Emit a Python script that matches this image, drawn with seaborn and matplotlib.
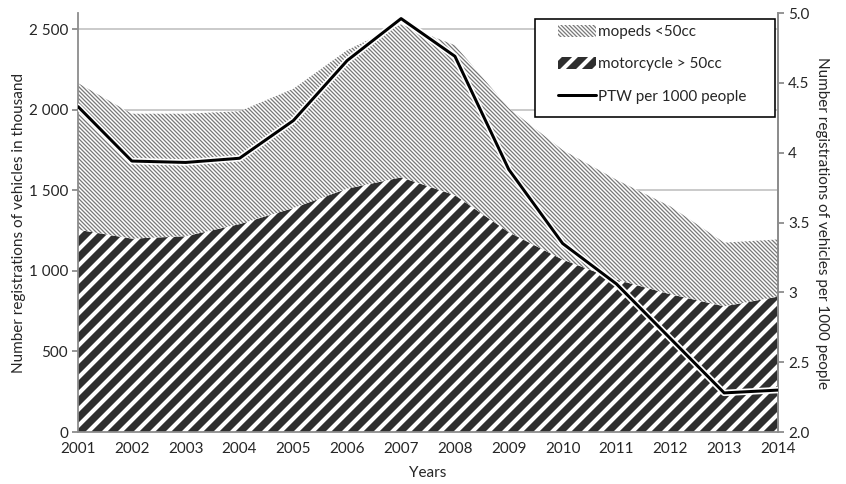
import numpy as np
import pandas as pd
import matplotlib
matplotlib.use("Agg")
import matplotlib.pyplot as plt
import matplotlib.patheffects as pe
from matplotlib.patches import Patch, Rectangle
from matplotlib.lines import Line2D
from matplotlib.ticker import FixedLocator, FixedFormatter, MultipleLocator
import seaborn as sns

# ─── Data ─────────────────────────────────────────────────────────────────────
years       = [2001, 2002, 2003, 2004, 2005, 2006, 2007, 2008, 2009, 2010, 2011, 2012, 2013, 2014]
motorcycle  = [1255, 1200, 1215, 1290, 1390, 1510, 1580, 1470, 1240, 1070, 945, 855, 780, 840]
mopeds      = [910, 775, 760, 700, 740, 860, 950, 930, 770, 680, 620, 545, 395, 355]
ptw_per_1000 = [4.33, 3.94, 3.93, 3.96, 4.23, 4.66, 4.96, 4.69, 3.88, 3.35, 3.06, 2.67, 2.28, 2.30]

left_ticks   = [0, 500, 1000, 1500, 2000, 2500]
left_labels  = ["0", "500", "1 000", "1 500", "2 000", "2 500"]
right_ticks  = [2.0, 2.5, 3.0, 3.5, 4.0, 4.5, 5.0]
right_labels = ["2.0", "2.5", "3", "3.5", "4", "4.5", "5.0"]

df = pd.DataFrame({"year": years, "motorcycle": motorcycle,
                   "mopeds": mopeds, "ptw": ptw_per_1000})
df["total"] = df["motorcycle"] + df["mopeds"]

# ─── Style ────────────────────────────────────────────────────────────────────
sns.set_style("white")
plt.rcParams["font.family"] = ["Lato", "DejaVu Sans"]
GRID = "#bfbfbf"
AX_C = "#8c8c8c"
TXT = "#262626"
FS = 7.6
MOTO_C, MOTO_H, MOTO_LW = "#2e2e2e", "///", 3.6
MOPED_C, MOPED_H, MOPED_LW = "#7a7a7a", "\\" * 12, 0.65


def set_hatch_lw(artist, lw):
    # per-artist hatch width (matplotlib >= 3.10), fallback to private attr
    if hasattr(artist, "set_hatch_linewidth"):
        artist.set_hatch_linewidth(lw)
    else:
        artist._hatch_linewidth = lw


DPI = 144
W, H = 846, 484
fig = plt.figure(figsize=(W / DPI, H / DPI), dpi=DPI)
ax = fig.add_axes([78 / W, 1 - 432 / H, 700 / W, 419 / H])

# ── Stacked hatched areas ────────────────────────────────────────────────────
moto_fill = ax.fill_between(df["year"], 0, df["motorcycle"], facecolor="white",
                            edgecolor=MOTO_C, hatch=MOTO_H, linewidth=0, zorder=2)
set_hatch_lw(moto_fill, MOTO_LW)
moped_fill = ax.fill_between(df["year"], df["motorcycle"], df["total"], facecolor="white",
                             edgecolor=MOPED_C, hatch=MOPED_H, linewidth=0, zorder=2)
set_hatch_lw(moped_fill, MOPED_LW)

ax.set_xlim(2001, 2014)
ax.set_ylim(0, 2600)
ax.yaxis.set_major_locator(FixedLocator(left_ticks))
ax.yaxis.set_major_formatter(FixedFormatter(left_labels))
ax.set_xticks(years)
ax.set_xticklabels([str(y) for y in years])
ax.xaxis.set_minor_locator(MultipleLocator(0.5))
ax.grid(axis="y", color=GRID, lw=0.8)
ax.grid(axis="x", visible=False)
ax.set_axisbelow(True)

# ── Line on secondary axis ───────────────────────────────────────────────────
ax2 = ax.twinx()
sns.lineplot(data=df, x="year", y="ptw", ax=ax2, color="black", lw=1.5, zorder=5,
             path_effects=[pe.Stroke(linewidth=3.2, foreground="white"), pe.Normal()])
ax2.set_ylim(2.0, 5.0)
ax2.yaxis.set_major_locator(FixedLocator(right_ticks))
ax2.yaxis.set_major_formatter(FixedFormatter(right_labels))
ax2.set_xlim(2001, 2014)

for a in (ax, ax2):
    a.spines["top"].set_visible(False)
    for s in ("left", "right", "bottom"):
        a.spines[s].set_color(AX_C)
        a.spines[s].set_linewidth(0.9)
    a.tick_params(axis="both", colors=AX_C, labelcolor=TXT, labelsize=FS,
                  length=3, width=0.9, direction="out", pad=2)
ax.tick_params(axis="x", which="minor", direction="in", length=2, width=0.9, colors=AX_C)
ax2.spines["left"].set_visible(False)
ax2.spines["bottom"].set_visible(False)

ax.set_xlabel("Years", fontsize=FS, color=TXT, labelpad=5)
ax.set_ylabel("Number registrations of vehicles in thousand", fontsize=FS, color=TXT, labelpad=1.5)
ax2.set_ylabel("Number registrations of vehicles per 1000 people", fontsize=FS, color=TXT,
               rotation=270, labelpad=10)

# ── Legend (entries + a plain frame drawn separately) ────────────────────────
h_moped = Patch(facecolor="white", edgecolor=MOPED_C, hatch=MOPED_H, lw=0)
h_moto = Patch(facecolor="white", edgecolor=MOTO_C, hatch=MOTO_H, lw=0)
h_line = Line2D([], [], color="black", lw=1.5)

frame = Rectangle((535 / W, 1 - 117 / H), 240 / W, 98 / H, transform=fig.transFigure,
                  facecolor="white", edgecolor="black", lw=0.8, zorder=9)
fig.add_artist(frame)
leg = fig.legend([h_moped, h_moto, h_line],
                 ["mopeds <50cc", "motorcycle > 50cc", "PTW per 1000 people"],
                 loc="upper left", bbox_to_anchor=(558 / W, 1 - 25 / H),
                 fontsize=FS, frameon=False,
                 handlelength=2.5, handleheight=0.8, handletextpad=0.1,
                 labelspacing=1.2, borderpad=0, borderaxespad=0)
leg.set_zorder(10)
handles = leg.legend_handles if hasattr(leg, "legend_handles") else leg.legendHandles
set_hatch_lw(handles[0], MOPED_LW)
set_hatch_lw(handles[1], MOTO_LW)

fig.savefig("out.png", dpi=DPI)
